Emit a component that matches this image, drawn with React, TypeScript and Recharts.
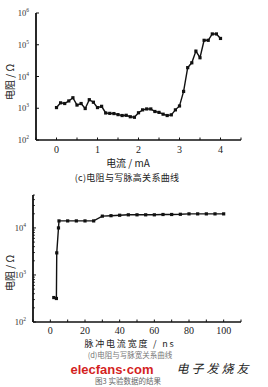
import React from "react";
import { LineChart, Line, XAxis, YAxis } from "recharts";

// (c) resistance vs write pulse height (current, mA)
const currentMA = [0, 0.1, 0.2, 0.3, 0.4, 0.5, 0.6, 0.7, 0.8, 0.9, 1.0, 1.1, 1.2, 1.3, 1.4, 1.5, 1.6, 1.7, 1.8, 1.9, 2.0, 2.1, 2.2, 2.3, 2.4, 2.5, 2.6, 2.7, 2.8, 2.9, 3.0, 3.1, 3.2, 3.3, 3.4, 3.5, 3.6, 3.7, 3.8, 3.9, 4.0];
const resistanceC = [1050, 1480, 1410, 1700, 2140, 1260, 1410, 980, 1860, 1550, 1050, 1150, 710, 690, 680, 630, 590, 600, 540, 520, 720, 890, 950, 950, 790, 740, 650, 590, 620, 890, 1180, 3390, 19000, 27000, 63000, 39000, 138000, 138000, 219000, 219000, 158000];
const xTicksC = [-0.5, 0, 0.5, 1, 1.5, 2, 2.5, 3, 3.5, 4, 4.5];
const yTicksC = [100, 1000, 10000, 100000, 1000000];

// (d) resistance vs write pulse width (ns)
const widthNs = [2, 3.5, 3.7, 4.7, 5, 10, 15, 20, 25, 30, 35, 40, 45, 50, 55, 60, 65, 70, 75, 80, 85, 90, 95, 100];
const resistanceD = [331, 316, 2950, 10000, 14100, 14100, 14100, 14100, 14100, 17800, 18200, 18600, 19000, 19000, 19000, 19000, 19300, 19300, 19500, 19900, 19900, 19900, 19900, 19900];
const xTicksD = [-10, 0, 10, 20, 30, 40, 50, 60, 70, 80, 90, 100, 110];
const yTicksD = [100, 200, 300, 400, 500, 600, 700, 800, 900, 1000, 2000, 3000, 4000, 5000, 6000, 7000, 8000, 9000, 10000, 20000, 30000, 40000, 50000];

const dataC = currentMA.map((x, i) => ({ x, r: resistanceC[i] }));
const dataD = widthNs.map((x, i) => ({ x, r: resistanceD[i] }));

const SERIF = "'Liberation Serif', 'DejaVu Serif', serif";
const CJK = "'Noto Sans CJK SC', 'Noto Sans', sans-serif";

const isPow10 = (v: number) => {
  const e = Math.log10(v);
  return Math.abs(e - Math.round(e)) < 1e-9;
};

const XTick = (labelled: (v: number) => boolean, dy: number) => (props: any) => {
  const { x, y, payload } = props;
  const v = payload.value as number;
  const show = labelled(v);
  return (
    <g>
      <line x1={x} y1={y} x2={x} y2={y - 2.5} stroke="#111" strokeWidth={1} />
      {show && (
        <text x={x} y={y + dy} textAnchor="middle" fontFamily={SERIF} fontSize={10} fill="#222">
          {v}
        </text>
      )}
    </g>
  );
};

const YTick = (props: any) => {
  const { x, y, payload } = props;
  const v = payload.value as number;
  const major = isPow10(v);
  const e = Math.round(Math.log10(v));
  return (
    <g>
      <line x1={x} y1={y} x2={x + (major ? 3 : 1.8)} y2={y} stroke="#111" strokeWidth={1} />
      {major && (
        <text x={x - 7} y={y + 3} textAnchor="end" fontFamily={SERIF} fontSize={8.5} fill="#333">
          10
          <tspan dy={-4} fontSize={5.5}>{e}</tspan>
        </text>
      )}
    </g>
  );
};

const SquareDot = (props: any) => {
  const { cx, cy } = props;
  if (cx == null || cy == null) return null;
  return <rect x={cx - 1.6} y={cy - 1.6} width={3.2} height={3.2} fill="#111" />;
};

const label = (
  text: string,
  left: number,
  top: number,
  style: React.CSSProperties = {}
) => (
  <div
    style={{
      position: "absolute",
      left,
      top,
      transform: "translate(-50%, -50%)",
      whiteSpace: "nowrap",
      fontFamily: CJK,
      fontSize: 10,
      color: "#222",
      lineHeight: 1,
      ...style,
    }}
  >
    {text}
  </div>
);

export default function App() {
  return (
    <div style={{ position: "absolute", left: 0, top: 0, width: 268, height: 387, background: "#fff", overflow: "hidden" }}>
      <div style={{ position: "absolute", left: 0, top: 0 }}>
        <LineChart width={268} height={175} data={dataC} margin={{ top: 13, right: 27, left: 0, bottom: 15 }}>
          <XAxis
            dataKey="x"
            type="number"
            domain={[-0.5, 4.5]}
            ticks={xTicksC}
            interval={0}
            height={20}
            tickSize={0}
            tickMargin={0}
            axisLine={{ stroke: "#111", strokeWidth: 1.6 }}
            tickLine={false}
            tick={XTick((v) => Number.isInteger(v), 13)}
          />
          <YAxis
            dataKey="r"
            scale="log"
            domain={[100, 1000000]}
            allowDataOverflow
            ticks={yTicksC}
            interval={0}
            width={36}
            tickSize={0}
            tickMargin={0}
            axisLine={{ stroke: "#111", strokeWidth: 1.8 }}
            tickLine={false}
            tick={YTick}
          />
          <Line type="linear" dataKey="r" stroke="#111" strokeWidth={1.4} dot={<SquareDot />} isAnimationActive={false} />
        </LineChart>
      </div>

      <div style={{ position: "absolute", left: 0, top: 185 }}>
        <LineChart width={268} height={170} data={dataD} margin={{ top: 10, right: 27, left: 0, bottom: 13 }}>
          <XAxis
            dataKey="x"
            type="number"
            domain={[-10, 110]}
            ticks={xTicksD}
            interval={0}
            height={20}
            tickSize={0}
            tickMargin={0}
            axisLine={{ stroke: "#111", strokeWidth: 1.6 }}
            tickLine={false}
            tick={XTick((v) => v >= 0 && v <= 100 && v % 20 === 0, 11.5)}
          />
          <YAxis
            dataKey="r"
            scale="log"
            domain={[100, 50119]}
            allowDataOverflow
            ticks={yTicksD}
            interval={0}
            width={33}
            tickSize={0}
            tickMargin={0}
            axisLine={{ stroke: "#111", strokeWidth: 1.8 }}
            tickLine={false}
            tick={YTick}
          />
          <Line type="linear" dataKey="r" stroke="#111" strokeWidth={1.4} dot={<SquareDot />} isAnimationActive={false} />
        </LineChart>
      </div>

      {label("电阻 / Ω", 10, 82, { transform: "translate(-50%, -50%) rotate(-90deg)" })}
      {label("电流 / mA", 128, 163)}
      {label("(c)电阻与写脉高关系曲线", 127, 177, { fontSize: 9, letterSpacing: 0.3 })}

      {label("电阻 / Ω", 10, 273, { transform: "translate(-50%, -50%) rotate(-90deg)" })}
      {label("脉冲电流宽度 / ns", 130, 343, { fontSize: 9, letterSpacing: 1.8 })}
      {label("(d)电阻与写脉宽关系曲线", 130, 355.2, { fontSize: 7.5, color: "#777" })}
      {label("图3  实验数据的结果", 128, 381.4, { fontSize: 7.5, color: "#666" })}
      {label("elecfans·com", 112, 368.6, { fontFamily: "'Liberation Sans', Arial, sans-serif", fontSize: 13, fontWeight: 700, color: "#d41f1f" })}
      {label("电子发烧友", 214, 368, { fontSize: 12, color: "#222", letterSpacing: 3, fontStyle: "italic" })}
    </div>
  );
}
